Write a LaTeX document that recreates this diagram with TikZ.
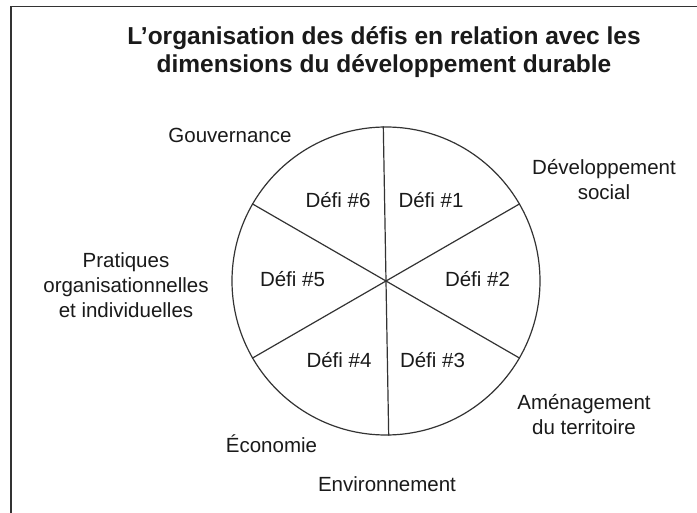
\documentclass[tikz,border=0pt]{standalone}
\usepackage{fontspec}
\setmainfont{Liberation Sans}
\definecolor{ink}{HTML}{1A1A1A}
\definecolor{rule}{HTML}{333333}
\begin{document}
\begin{tikzpicture}[x=1pt,y=-1pt,
  lbl/.style={font=\fontsize{20.5}{25}\selectfont, text=ink, align=center, anchor=base, inner sep=0pt},
  defi/.style={font=\fontsize{20.5}{25}\selectfont, text=ink, anchor=base, inner sep=0pt},
  heading/.style={font=\bfseries\fontsize{24.5}{28}\selectfont, text=ink, align=center, anchor=base, inner sep=0pt},
  wheel/.style={draw=rule, line width=1.2pt},
  frame/.style={draw=rule, line width=1.5pt}]
\useasboundingbox (0,0) rectangle (697,513);
\fill[white] (0,0) rectangle (697,513);
\draw[frame] (11,513) -- (11,6.7) -- (697,6.7);
\node[heading] (title) at (384,73) {L’organisation des défis en relation avec les\\dimensions du développement durable};
\node[circle, wheel, minimum size=308pt, inner sep=0pt] (c) at (386,281) {};
\draw[wheel] (c.91) -- (c.271);
\draw[wheel] (c.30) -- (c.210);
\draw[wheel] (c.150) -- (c.330);
\node[defi] (d6) at (338,208) {Défi \#6};
\node[defi] (d1) at (431,208) {Défi \#1};
\node[defi] (d5) at (292.5,287) {Défi \#5};
\node[defi] (d2) at (477.5,287) {Défi \#2};
\node[defi] (d4) at (339,367) {Défi \#4};
\node[defi] (d3) at (432.5,367) {Défi \#3};
\node[lbl] (gov) at (230,143) {Gouvernance};
\node[lbl] (soc) at (604,200) {Développement\\social};
\node[lbl] (prat) at (126,318) {Pratiques\\organisationnelles\\et individuelles};
\node[lbl] (amen) at (584,435) {Aménagement\\du territoire};
\node[lbl] (eco) at (271.5,452) {Économie};
\node[lbl] (env) at (387,491) {Environnement};
\end{tikzpicture}
\end{document}
